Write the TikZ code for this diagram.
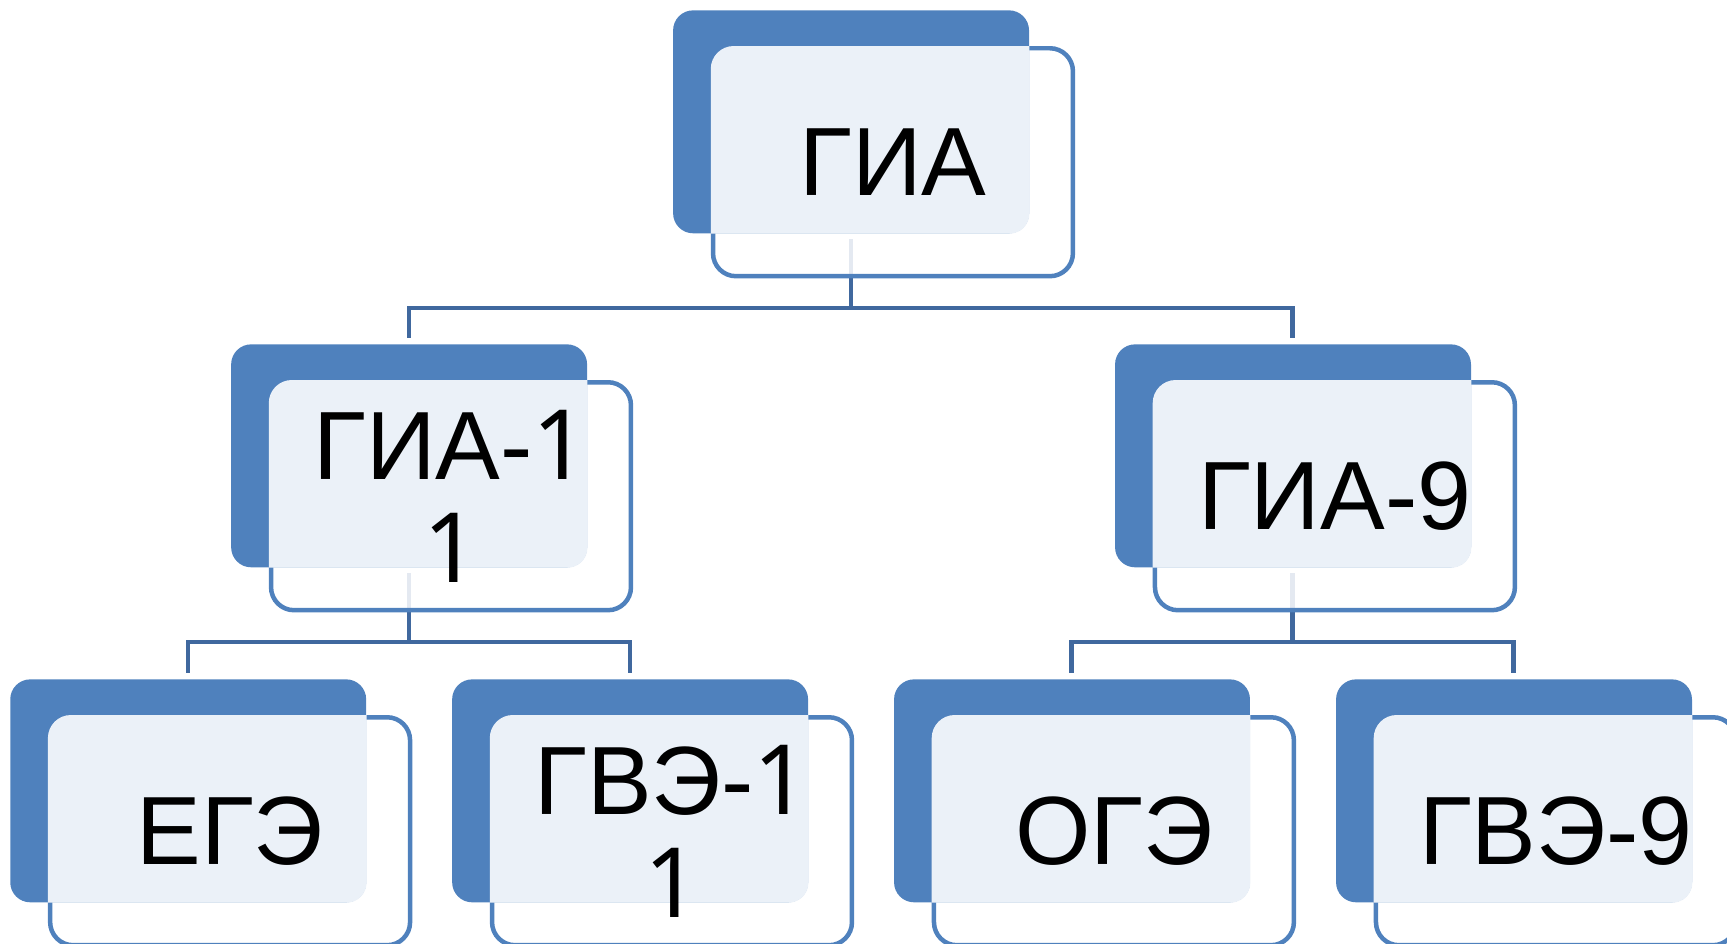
\documentclass[tikz,border=0pt]{standalone}
\usepackage{fontspec}
\setmainfont{Liberation Sans}
\newfontfamily\digitfont{Noto Sans}
\usetikzlibrary{positioning}
\definecolor{boxblue}{RGB}{79,129,189}
\definecolor{boxlight}{RGB}{235,241,248}
\definecolor{linkblue}{RGB}{64,104,158}
\tikzset{
    back/.style = {rectangle, rounded corners=0.4cm, fill=boxblue, anchor=north west, inner sep=0pt, minimum width=7.12cm, minimum height=4.46cm},
    outline/.style = {rectangle, rounded corners=0.46cm, draw=boxblue, line width=0.09cm, fill=white, fill opacity=0.86, draw opacity=1, anchor=north west, inner sep=0pt, minimum width=7.2cm, minimum height=4.56cm},
    front/.style = {fill=boxlight, rounded corners=0.46cm},
    boxtext/.style = {align=center, inner sep=0pt, font=\fontsize{55.2pt}{58.6pt}\selectfont},
    link/.style = {draw=linkblue, line width=0.09cm, shorten <=0.12cm, shorten >=0.12cm}
}

\begin{document}
\begin{tikzpicture}[x=0.02cm, y=-0.02cm]
  \useasboundingbox (0,0) rectangle (1727,943);

  % positions of the blue boxes
  \coordinate (p-gia)   at (672.75,10);
  \coordinate (p-gia11) at (230.8,344);
  \coordinate (p-gia9)  at (1114.7,344);
  \coordinate (p-ege)   at (9.9,679);
  \coordinate (p-gve11) at (451.8,679);
  \coordinate (p-oge)   at (893.7,679);
  \coordinate (p-gve9)  at (1335.7,679);

  % connectors
  \path (p-gia)   +(178,223) coordinate (s-gia);
  \path (p-gia11) +(178,223) coordinate (s-gia11);
  \path (p-gia9)  +(178,223) coordinate (s-gia9);
  \path (p-gia11) +(178,0) coordinate (n-gia11);
  \path (p-gia9)  +(178,0) coordinate (n-gia9);
  \path (p-ege)   +(178,0) coordinate (n-ege);
  \path (p-gve11) +(178,0) coordinate (n-gve11);
  \path (p-oge)   +(178,0) coordinate (n-oge);
  \path (p-gve9)  +(178,0) coordinate (n-gve9);
  \draw[link] (s-gia) -- ++(0,75) -| (n-gia11);
  \draw[link] (s-gia) -- ++(0,75) -| (n-gia9);
  \draw[link] (s-gia11) -- ++(0,75) -| (n-ege);
  \draw[link] (s-gia11) -- ++(0,75) -| (n-gve11);
  \draw[link] (s-gia9) -- ++(0,75) -| (n-oge);
  \draw[link] (s-gia9) -- ++(0,75) -| (n-gve9);

  % top
  \node[outline] (o-gia) at ([shift={(38,36)}]p-gia) {};
  \node[back] (b-gia) at (p-gia) {};
  \begin{scope}
    \clip[rounded corners=0.4cm] (b-gia.south west) rectangle (b-gia.north east);
    \fill[front] (o-gia.south west) rectangle (o-gia.north east);
  \end{scope}
  \node[boxtext] (t-gia) at (o-gia) {ГИА};

  % second row
  \node[outline] (o-gia11) at ([shift={(38,36)}]p-gia11) {};
  \node[back] (b-gia11) at (p-gia11) {};
  \begin{scope}
    \clip[rounded corners=0.4cm] (b-gia11.south west) rectangle (b-gia11.north east);
    \fill[front] (o-gia11.south west) rectangle (o-gia11.north east);
  \end{scope}
  \node[boxtext] (t-gia11) at (o-gia11) {ГИА-{\digitfont 1}\\{\digitfont 1}};

  \node[outline] (o-gia9) at ([shift={(38,36)}]p-gia9) {};
  \node[back] (b-gia9) at (p-gia9) {};
  \begin{scope}
    \clip[rounded corners=0.4cm] (b-gia9.south west) rectangle (b-gia9.north east);
    \fill[front] (o-gia9.south west) rectangle (o-gia9.north east);
  \end{scope}
  \node[boxtext] (t-gia9) at (o-gia9) {ГИА-9};

  % third row
  \node[outline] (o-ege) at ([shift={(38,36)}]p-ege) {};
  \node[back] (b-ege) at (p-ege) {};
  \begin{scope}
    \clip[rounded corners=0.4cm] (b-ege.south west) rectangle (b-ege.north east);
    \fill[front] (o-ege.south west) rectangle (o-ege.north east);
  \end{scope}
  \node[boxtext] (t-ege) at (o-ege) {ЕГЭ};

  \node[outline] (o-gve11) at ([shift={(38,36)}]p-gve11) {};
  \node[back] (b-gve11) at (p-gve11) {};
  \begin{scope}
    \clip[rounded corners=0.4cm] (b-gve11.south west) rectangle (b-gve11.north east);
    \fill[front] (o-gve11.south west) rectangle (o-gve11.north east);
  \end{scope}
  \node[boxtext] (t-gve11) at (o-gve11) {ГВЭ-{\digitfont 1}\\{\digitfont 1}};

  \node[outline] (o-oge) at ([shift={(38,36)}]p-oge) {};
  \node[back] (b-oge) at (p-oge) {};
  \begin{scope}
    \clip[rounded corners=0.4cm] (b-oge.south west) rectangle (b-oge.north east);
    \fill[front] (o-oge.south west) rectangle (o-oge.north east);
  \end{scope}
  \node[boxtext] (t-oge) at (o-oge) {ОГЭ};

  \node[outline] (o-gve9) at ([shift={(38,36)}]p-gve9) {};
  \node[back] (b-gve9) at (p-gve9) {};
  \begin{scope}
    \clip[rounded corners=0.4cm] (b-gve9.south west) rectangle (b-gve9.north east);
    \fill[front] (o-gve9.south west) rectangle (o-gve9.north east);
  \end{scope}
  \node[boxtext] (t-gve9) at (o-gve9) {ГВЭ-9};

\end{tikzpicture}
\end{document}
